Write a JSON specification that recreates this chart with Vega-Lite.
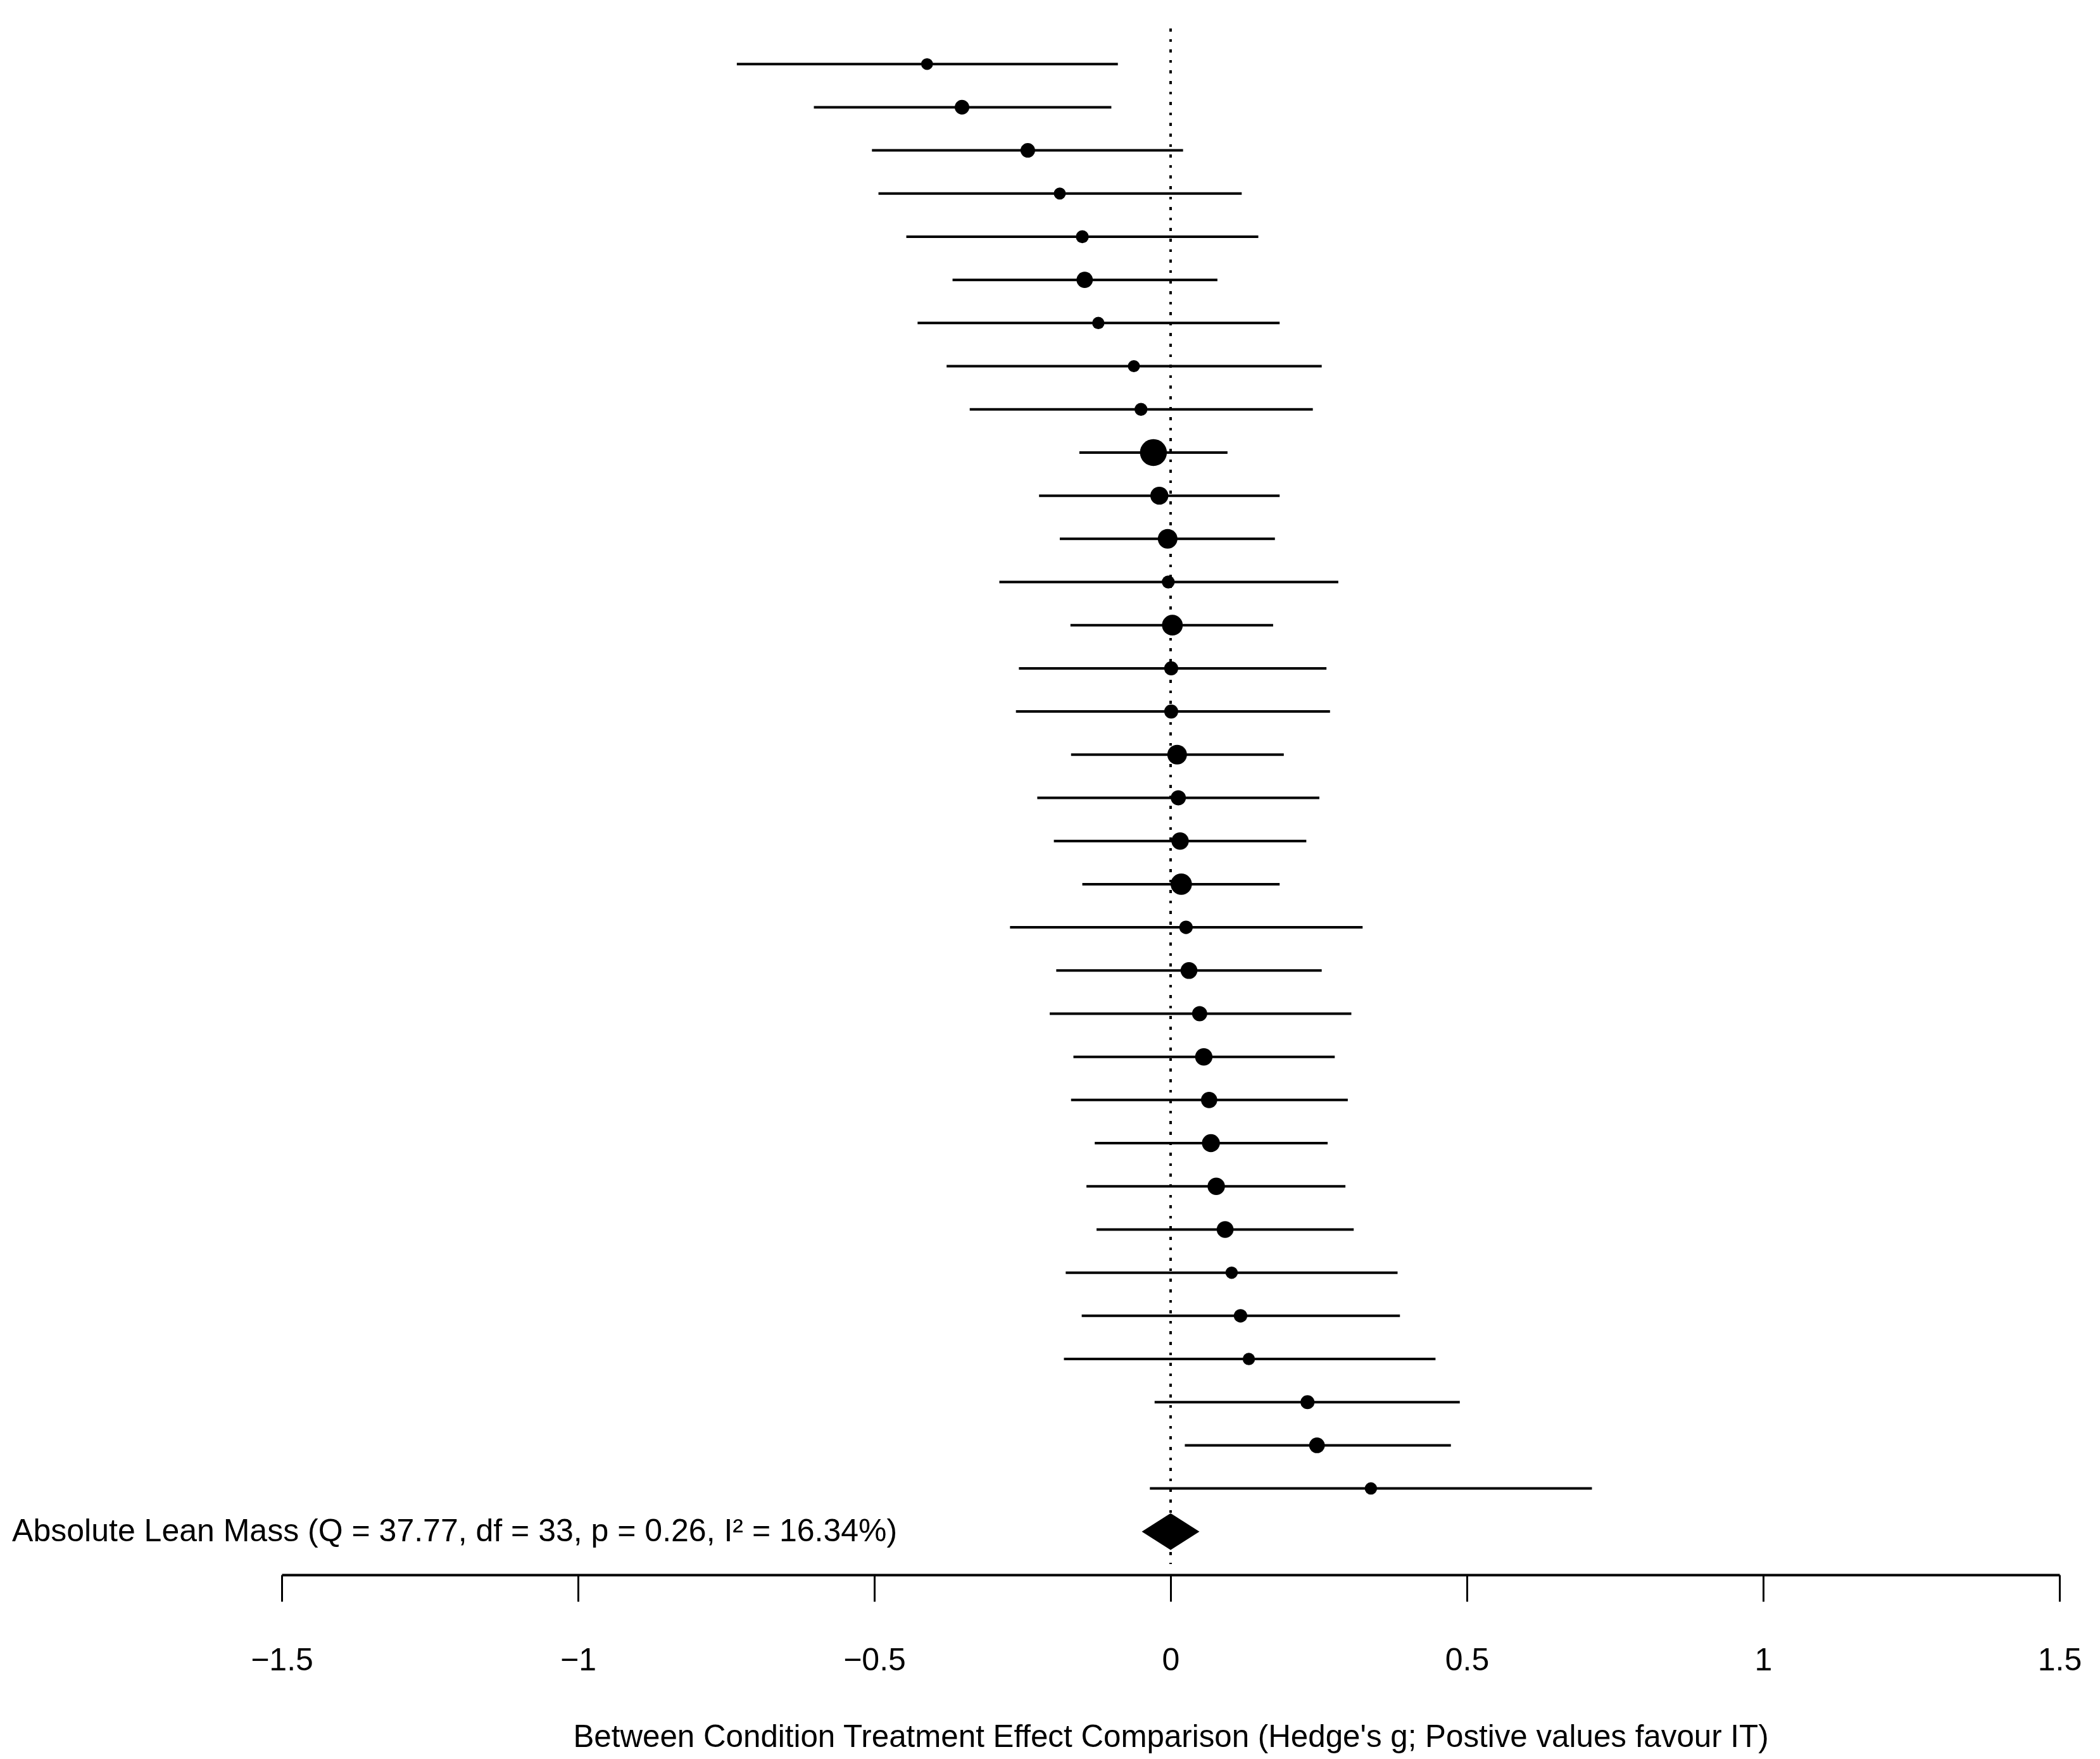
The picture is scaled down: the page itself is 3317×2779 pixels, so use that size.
{
  "$schema": "https://vega.github.io/schema/vega-lite/v6.json",
  "width": 2808,
  "height": 2455,
  "autosize": {"type": "none"},
  "padding": {"left": 445, "top": 33, "right": 64, "bottom": 291},
  "background": "white",
  "config": {"view": {"stroke": null}, "font": "Liberation Sans"},
  "datasets": {
    "studies": [
      {"row": 1, "est": -0.411, "lo": -0.732, "hi": -0.089, "w": 21},
      {"row": 2, "est": -0.352, "lo": -0.602, "hi": -0.100, "w": 26},
      {"row": 3, "est": -0.241, "lo": -0.504, "hi": 0.021, "w": 26},
      {"row": 4, "est": -0.187, "lo": -0.493, "hi": 0.120, "w": 21.5},
      {"row": 5, "est": -0.149, "lo": -0.446, "hi": 0.148, "w": 23},
      {"row": 6, "est": -0.145, "lo": -0.368, "hi": 0.079, "w": 29},
      {"row": 7, "est": -0.122, "lo": -0.427, "hi": 0.184, "w": 22},
      {"row": 8, "est": -0.062, "lo": -0.378, "hi": 0.255, "w": 21.5},
      {"row": 9, "est": -0.050, "lo": -0.339, "hi": 0.240, "w": 23},
      {"row": 10, "est": -0.029, "lo": -0.154, "hi": 0.096, "w": 48},
      {"row": 11, "est": -0.019, "lo": -0.222, "hi": 0.184, "w": 32},
      {"row": 12, "est": -0.005, "lo": -0.187, "hi": 0.176, "w": 35},
      {"row": 13, "est": -0.004, "lo": -0.289, "hi": 0.283, "w": 23},
      {"row": 14, "est": 0.003, "lo": -0.169, "hi": 0.173, "w": 37},
      {"row": 15, "est": 0.001, "lo": -0.256, "hi": 0.263, "w": 25},
      {"row": 16, "est": 0.001, "lo": -0.261, "hi": 0.269, "w": 25},
      {"row": 17, "est": 0.011, "lo": -0.168, "hi": 0.191, "w": 35},
      {"row": 18, "est": 0.013, "lo": -0.225, "hi": 0.251, "w": 27},
      {"row": 19, "est": 0.016, "lo": -0.197, "hi": 0.229, "w": 31},
      {"row": 20, "est": 0.018, "lo": -0.149, "hi": 0.184, "w": 38},
      {"row": 21, "est": 0.026, "lo": -0.271, "hi": 0.324, "w": 24},
      {"row": 22, "est": 0.031, "lo": -0.193, "hi": 0.255, "w": 30},
      {"row": 23, "est": 0.049, "lo": -0.204, "hi": 0.305, "w": 27},
      {"row": 24, "est": 0.056, "lo": -0.164, "hi": 0.277, "w": 31},
      {"row": 25, "est": 0.065, "lo": -0.168, "hi": 0.299, "w": 29},
      {"row": 26, "est": 0.068, "lo": -0.128, "hi": 0.265, "w": 32},
      {"row": 27, "est": 0.077, "lo": -0.142, "hi": 0.295, "w": 31},
      {"row": 28, "est": 0.092, "lo": -0.125, "hi": 0.309, "w": 30},
      {"row": 29, "est": 0.103, "lo": -0.177, "hi": 0.383, "w": 22},
      {"row": 30, "est": 0.118, "lo": -0.150, "hi": 0.387, "w": 24},
      {"row": 31, "est": 0.132, "lo": -0.180, "hi": 0.447, "w": 22},
      {"row": 32, "est": 0.231, "lo": -0.027, "hi": 0.488, "w": 25},
      {"row": 33, "est": 0.247, "lo": 0.024, "hi": 0.473, "w": 28},
      {"row": 34, "est": 0.338, "lo": -0.035, "hi": 0.711, "w": 22}
    ],
    "summary": [
      {"row": 35, "est": 0.0, "label": "Absolute Lean Mass (Q = 37.77, df = 33, p = 0.26, I² = 16.34%)", "labelx": -1.955}
    ]
  },
  "layer": [
    {
      "data": {"name": "studies"},
      "mark": {"type": "rule", "color": "black", "strokeWidth": 4},
      "encoding": {
        "x": {
          "field": "lo", "type": "quantitative",
          "scale": {"domain": [-1.5, 1.5], "nice": false, "zero": false},
          "axis": {
            "values": [-1.5, -1, -0.5, 0, 0.5, 1, 1.5],
            "format": "~g", "grid": false,
            "domainColor": "black", "domainWidth": 4,
            "tickColor": "black", "tickWidth": 3, "tickSize": 42,
            "labelFontSize": 50, "labelColor": "black", "labelFont": "Liberation Sans",
            "labelPadding": 68, "labelFlush": false, "labelOverlap": false,
            "title": "Between Condition Treatment Effect Comparison (Hedge's g; Postive values favour IT)",
            "titleFontSize": 49.3, "titleFontWeight": "normal", "titleColor": "black",
            "titleFont": "Liberation Sans", "titlePadding": 72
          }
        },
        "x2": {"field": "hi"},
        "y": {"field": "row", "type": "quantitative", "scale": {"domain": [0, 36], "reverse": true, "nice": false, "zero": false}, "axis": null}
      }
    },
    {
      "data": {"name": "studies"},
      "mark": {"type": "rule", "color": "black", "strokeWidth": 3.5, "strokeDash": [4, 12.6]},
      "encoding": {
        "x": {"datum": 0, "type": "quantitative"},
        "y": {"datum": 0.18, "type": "quantitative"},
        "y2": {"datum": 35.75}
      }
    },
    {
      "data": {"name": "studies"},
      "mark": {"type": "circle", "color": "black", "opacity": 1},
      "encoding": {
        "x": {"field": "est", "type": "quantitative"},
        "y": {"field": "row", "type": "quantitative"},
        "size": {"field": "w", "type": "quantitative", "scale": {"type": "pow", "exponent": 2, "domain": [0, 48], "range": [0, 1810]}, "legend": null}
      }
    },
    {
      "data": {"name": "summary"},
      "mark": {"type": "point", "shape": "M-1,0L0,-0.637L1,0L0,0.637Z", "size": 8281, "filled": true, "color": "black", "opacity": 1, "strokeWidth": 0},
      "encoding": {
        "x": {"field": "est", "type": "quantitative"},
        "y": {"field": "row", "type": "quantitative"}
      }
    },
    {
      "data": {"name": "summary"},
      "mark": {"type": "text", "align": "left", "baseline": "middle", "fontSize": 50, "font": "Liberation Sans", "color": "black"},
      "encoding": {
        "x": {"field": "labelx", "type": "quantitative"},
        "y": {"field": "row", "type": "quantitative"},
        "text": {"field": "label"}
      }
    }
  ]
}
